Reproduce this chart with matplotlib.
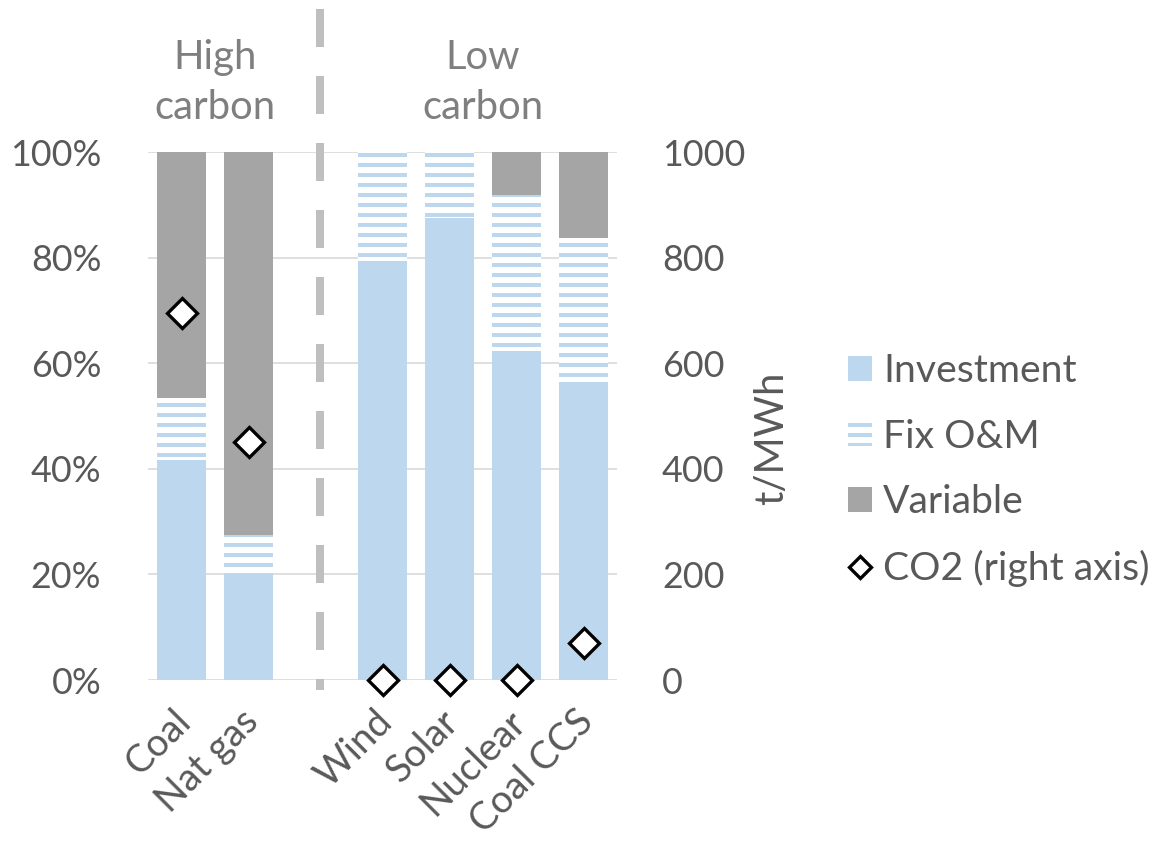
import matplotlib
matplotlib.use("Agg")
import matplotlib.pyplot as plt
from matplotlib.patches import Patch
from matplotlib.lines import Line2D
from matplotlib.transforms import ScaledTranslation

plt.rcParams['font.family'] = ['Lato', 'DejaVu Sans']
plt.rcParams['hatch.linewidth'] = 2.4
plt.rcParams['lines.scale_dashes'] = False

categories = ['Coal', 'Nat gas', 'Wind', 'Solar', 'Nuclear', 'Coal CCS']
positions = [0, 1, 3, 4, 5, 6]          # slot 2 left empty for the divider
investment = [41.7, 19.5, 79.4, 87.5, 62.4, 56.5]   # % of cost
fix_om = [11.8, 8.0, 20.6, 12.5, 29.5, 27.2]
variable = [46.5, 72.5, 0.0, 0.0, 8.1, 16.3]
co2 = [695, 450, 0, 0, 0, 70]            # t/MWh, right axis

BLUE = '#BDD7EE'
GREY = '#A5A5A5'
TXT = '#595959'
NUM_FS = 21.5
TXT_FS = 24
CAT_FS = 23
LEG_FS = 23.5

fig = plt.figure(figsize=(1153 / 120, 841 / 120), dpi=120)
ax = fig.add_axes([148 / 1153, 1 - 680 / 841, 469 / 1153, 528 / 841])
ax2 = ax.twinx()

bottom2 = [a + b for a, b in zip(investment, fix_om)]
w = 0.72
ax.bar(positions, investment, width=w, color=BLUE, linewidth=0, zorder=2)
ax.bar(positions, fix_om, bottom=investment, width=w, facecolor='white',
       edgecolor=BLUE, hatch='--', linewidth=0, zorder=2)
ax.bar(positions, variable, bottom=bottom2, width=w, color=GREY, linewidth=0, zorder=2)

ax.set_xlim(-0.5, 6.5)
ax.set_ylim(0, 100)
ax.set_yticks(range(0, 101, 20))
ax.set_yticklabels([f'{v}%' for v in range(0, 101, 20)])
ax.yaxis.grid(True, color='#D9D9D9', linewidth=1.0, zorder=0)
ax.set_axisbelow(True)
for s in ax.spines.values():
    s.set_visible(False)
for s in ax2.spines.values():
    s.set_visible(False)
ax.tick_params(axis='y', length=0, pad=28, labelsize=NUM_FS, labelcolor=TXT)
ax.set_xticks(positions)
ax.set_xticklabels(categories, rotation=45, ha='right', rotation_mode='anchor')
ax.tick_params(axis='x', length=0, pad=14, labelsize=CAT_FS, labelcolor=TXT)
shift = ScaledTranslation(-9 / 120, 0, fig.dpi_scale_trans)
for lab in ax.get_xticklabels():
    lab.set_transform(lab.get_transform() + shift)

# CO2 diamonds on the right axis
ax2.plot(positions, co2, linestyle='none', marker='D', markersize=12.5,
         markerfacecolor='white', markeredgecolor='black', markeredgewidth=2,
         clip_on=False, zorder=5)
ax2.set_ylim(0, 1000)
ax2.set_yticks(range(0, 1001, 200))
ax2.tick_params(axis='y', length=0, pad=27, labelsize=NUM_FS, labelcolor=TXT)
ax2.text(1.330, 0.458, 't/MWh', transform=ax.transAxes, rotation=90,
         ha='center', va='center', fontsize=TXT_FS, color=TXT)

# dashed divider between the two groups
ax.plot([2.06, 2.06], [1.2708, -0.0189], transform=ax.get_xaxis_transform(),
        color='#BFBFBF', linewidth=4.8, dashes=(22.8, 17.4),
        solid_capstyle='butt', dash_capstyle='butt', clip_on=False, zorder=1)

ax.text(0.5, 1.132, 'High\ncarbon', transform=ax.get_xaxis_transform(),
        ha='center', va='center', fontsize=TXT_FS, color='#7F7F7F', linespacing=1.45)
ax.text(4.5, 1.132, 'Low\ncarbon', transform=ax.get_xaxis_transform(),
        ha='center', va='center', fontsize=TXT_FS, color='#7F7F7F', linespacing=1.45)

handles = [
    Patch(facecolor=BLUE, linewidth=0),
    Patch(facecolor='white', edgecolor=BLUE, hatch='--', linewidth=0),
    Patch(facecolor=GREY, linewidth=0),
    Line2D([], [], linestyle='none', marker='D', markersize=9.5,
           markerfacecolor='white', markeredgecolor='black', markeredgewidth=2),
]
labels = ['Investment', 'Fix O&M', 'Variable', 'CO2 (right axis)']
leg = fig.legend(handles, labels, loc='center left',
                 bbox_to_anchor=(848 / 1153, 1 - 470 / 841), frameon=False,
                 fontsize=LEG_FS, handlelength=0.6, handleheight=0.6,
                 handletextpad=0.3, labelspacing=0.75, borderpad=0,
                 borderaxespad=0)
for t in leg.get_texts():
    t.set_color(TXT)

fig.savefig('out.png', dpi=120)
